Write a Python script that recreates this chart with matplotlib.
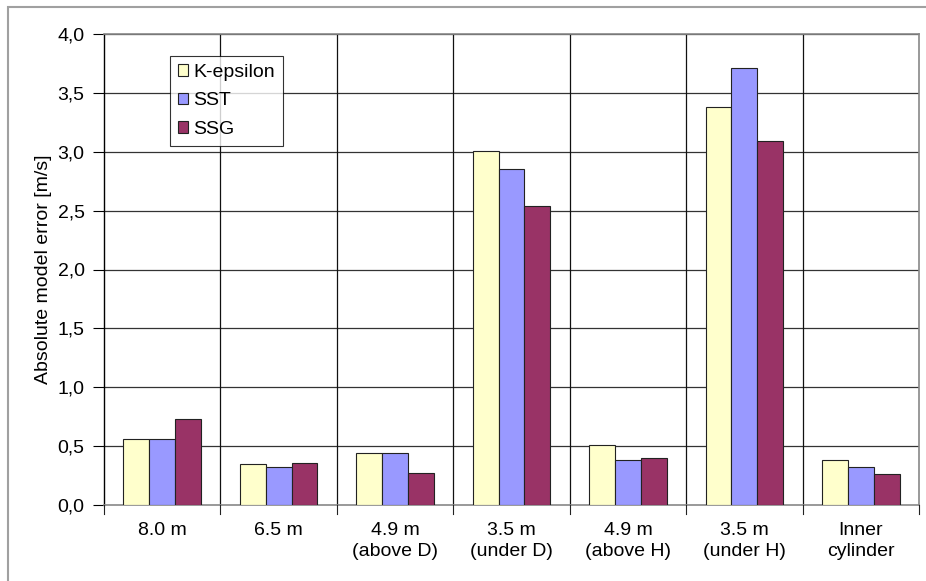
import matplotlib
matplotlib.use("Agg")
import matplotlib.pyplot as plt
import numpy as np
from matplotlib.patches import Rectangle

plt.rcParams["font.family"] = ["Liberation Sans", "DejaVu Sans"]

categories = ["8.0 m", "6.5 m", "4.9 m\n(above D)", "3.5 m\n(under D)",
              "4.9 m\n(above H)", "3.5 m\n(under H)", "Inner\ncylinder"]
k_epsilon = [0.56, 0.35, 0.44, 3.01, 0.51, 3.38, 0.38]
sst = [0.56, 0.32, 0.44, 2.85, 0.38, 3.71, 0.32]
ssg = [0.73, 0.36, 0.27, 2.54, 0.40, 3.09, 0.26]
series = [("K-epsilon", k_epsilon, "#ffffcc"),
          ("SST", sst, "#9999ff"),
          ("SSG", ssg, "#993366")]
yticks = np.arange(0, 4.01, 0.5)
FS = 14

fig = plt.figure(figsize=(9.26, 5.81), dpi=100)
ax = fig.add_axes([104 / 926, 76 / 581, 815 / 926, 471 / 581])

# outer chart frame (clipped on right/bottom like the original)
fig.patches.append(Rectangle((8 / 926, -0.05), 1.2, (581 - 7) / 581 + 0.05,
                             transform=fig.transFigure, fill=False,
                             ec="#a0a0a0", lw=1.5, zorder=0))

x = np.arange(len(categories))
w = 1 / 4.5
for i, (name, vals, col) in enumerate(series):
    ax.bar(x + (i - 1) * w, vals, w, color=col, edgecolor="#222222",
           linewidth=0.8, label=name, zorder=3)

ax.set_xlim(-0.5, len(categories) - 0.5)
ax.set_ylim(0, 4.0)
ax.set_yticks(yticks)
ax.set_yticklabels([f"{v:.1f}".replace(".", ",") for v in yticks], fontsize=FS)
ax.set_xticks(x)
ax.set_xticklabels(categories, fontsize=FS, linespacing=1.3)
ax.tick_params(axis="x", length=0, pad=12)
ax.tick_params(axis="y", direction="out", length=8, width=0.8, pad=6)

# gridlines
for v in yticks[1:]:
    ax.axhline(v, color="#333333", lw=0.9, zorder=1)
for b in np.arange(0.5, len(categories) - 0.5, 1):
    ax.axvline(b, color="#111111", lw=0.9, zorder=1)
# category tick marks below axis
for b in np.arange(-0.5, len(categories) + 0.5, 1):
    ax.plot([b, b], [0, -0.08], color="#222222", lw=0.8, clip_on=False, zorder=4)

for s in ["top", "right", "bottom"]:
    ax.spines[s].set_color("#888888")
    ax.spines[s].set_linewidth(1.2)
ax.spines["left"].set_color("black")
ax.spines["left"].set_linewidth(1.0)

ax.set_ylabel("Absolute model error [m/s]", fontsize=FS, labelpad=4)

leg = ax.legend(loc="upper left", bbox_to_anchor=(66 / 815, 1 - 22 / 471),
                fontsize=FS, frameon=True, fancybox=False, handlelength=0.55,
                handleheight=0.55, handletextpad=0.25, borderpad=0.4,
                labelspacing=0.6, borderaxespad=0)
leg.get_frame().set_edgecolor("black")
leg.get_frame().set_linewidth(0.8)
leg.set_zorder(5)

fig.savefig("out.png", dpi=100)
